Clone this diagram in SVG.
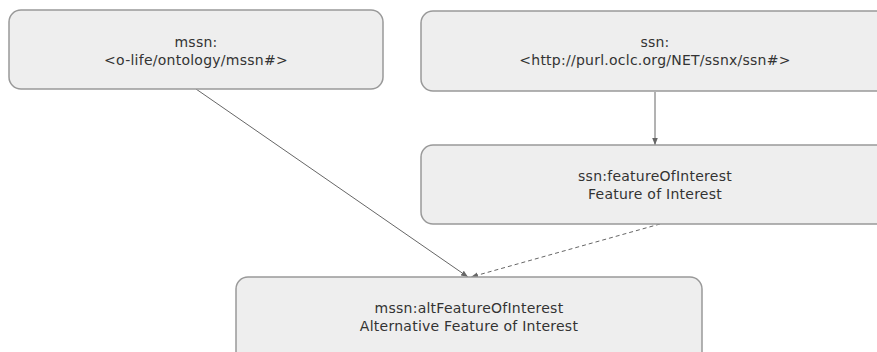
<svg xmlns="http://www.w3.org/2000/svg" width="877" height="352" viewBox="0 0 877 352">
  <style>
    .node rect { fill: #eeeeee; stroke: #999999; stroke-width: 1.5; }
    .node text { font-family: "DejaVu Sans", Verdana, sans-serif; font-size: 14px; letter-spacing: 0.25px; fill: #333333; text-anchor: middle; }
    .edge { stroke: #666666; stroke-width: 1; fill: none; }
    .dashed { stroke-dasharray: 4 3; }
  </style>
  <defs>
    <marker id="arrow" viewBox="0 0 10 10" refX="10" refY="5" markerWidth="7" markerHeight="7" orient="auto" markerUnits="userSpaceOnUse">
      <path d="M0,1 L10,5 L0,9 z" fill="#666666"/>
    </marker>
  </defs>

  <!-- connectors -->
  <g id="connectors">
    <line class="edge" x1="196" y1="89" x2="468" y2="277" marker-end="url(#arrow)"/>
    <line class="edge" x1="655" y1="92" x2="655" y2="145" marker-end="url(#arrow)"/>
    <line class="edge dashed" x1="660" y1="224" x2="471" y2="277" marker-end="url(#arrow)"/>
  </g>

  <g id="mssn" class="node">
    <rect x="9" y="10" width="374" height="79" rx="12"/>
    <text x="196" y="46.5">mssn:</text>
    <text x="196" y="64.5">&lt;o-life/ontology/mssn#&gt;</text>
  </g>

  <g id="ssn" class="node">
    <rect x="421" y="11" width="468" height="80" rx="12"/>
    <text x="655" y="47">ssn:</text>
    <text x="655" y="64.5">&lt;http://purl.oclc.org/NET/ssnx/ssn#&gt;</text>
  </g>

  <g id="featureOfInterest" class="node">
    <rect x="421" y="145" width="468" height="79" rx="12"/>
    <text x="655" y="181">ssn:featureOfInterest</text>
    <text x="655" y="198.5">Feature of Interest</text>
  </g>

  <g id="altFeatureOfInterest" class="node">
    <rect x="236" y="277" width="466" height="90" rx="12"/>
    <text x="469" y="313">mssn:altFeatureOfInterest</text>
    <text x="469" y="330.5">Alternative Feature of Interest</text>
  </g>
</svg>
